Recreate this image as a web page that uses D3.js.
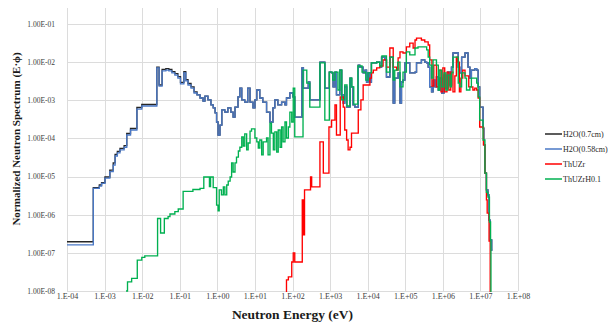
<!DOCTYPE html>
<html>
<head>
<meta charset="utf-8">
<script src="https://cdn.jsdelivr.net/npm/d3@7"></script>
<style>
	body { margin: 0; background: #fff; }
	text { font-family: "Liberation Serif", "Times New Roman", serif; }
</style>
</head>
<body>
<svg id="chart" width="609" height="325"></svg>
<script>
// values, stored as log10 (energy in eV, flux as E·phi)
// each series is a step function: value holds from its energy up to the next one
const h2oEnergy = [
	-4.00, -3.30, -3.14, -3.08, -2.99, -2.86, -2.77, -2.72, -2.66, -2.59,
	-2.48, -2.41, -2.31, -2.14, -2.01, -1.61, -1.55, -1.47, -1.37, -1.29,
	-1.21, -1.13, -1.05, -0.98, -0.89, -0.84, -0.78, -0.70, -0.62, -0.54,
	-0.46, -0.38, -0.33, -0.25, -0.17, -0.11, -0.06, -0.02, 0.02, 0.07,
	0.12, 0.20, 0.28, 0.36, 0.42, 0.47, 0.55, 0.60, 0.65, 0.73,
	0.81, 0.87, 0.95, 1.00, 1.05, 1.13, 1.21, 1.31, 1.40, 1.48,
	1.53, 1.61, 1.71, 1.80, 1.84, 1.93, 2.01, 2.06, 2.25, 2.29,
	2.42, 2.46, 2.73, 2.86, 2.98, 3.04, 3.08, 3.13, 3.17, 3.26,
	3.31, 3.35, 3.39, 3.44, 3.53, 3.57, 3.61, 3.66, 3.75, 3.79,
	3.88, 3.93, 3.97, 4.01, 4.06, 4.10, 4.24, 4.32, 4.37, 4.46,
	4.50, 4.59, 4.68, 4.72, 4.81, 4.86, 4.90, 4.94, 4.99, 5.12,
	5.26, 5.30, 5.43, 5.52, 5.57, 5.61, 5.65, 5.70, 5.74, 5.79,
	5.83, 5.88, 5.92, 5.97, 6.03, 6.08, 6.13, 6.19, 6.23, 6.27,
	6.41, 6.45, 6.50, 6.59, 6.67, 6.72, 6.76, 6.85, 6.90, 6.94,
	6.98, 7.07, 7.09, 7.12, 7.16, 7.20, 7.23, 7.26, 7.30, 7.32
]

const h2o07Flux = [
	-6.71, -5.29, -5.22, -5.16, -5.01, -4.83, -4.64, -4.42, -4.34, -4.26,
	-4.19, -3.87, -3.74, -3.19, -3.11, -2.13, -2.60, -2.19, -2.17, -2.19,
	-2.25, -2.30, -2.38, -2.53, -2.25, -2.46, -2.56, -2.65, -2.78, -2.86,
	-2.94, -3.02, -2.89, -2.99, -3.12, -3.20, -3.33, -3.57, -3.91, -3.65,
	-3.25, -3.31, -3.20, -3.31, -3.44, -3.18, -2.91, -2.68, -2.99, -3.05,
	-2.68, -3.05, -3.20, -2.99, -2.73, -2.94, -3.05, -3.31, -3.57, -3.20,
	-2.99, -3.12, -3.05, -3.12, -2.94, -2.81, -2.91, -3.44, -2.15, -2.68,
	-2.52, -2.99, -2.00, -2.68, -2.26, -2.28, -2.65, -2.26, -2.86, -2.21,
	-2.86, -3.07, -2.65, -3.18, -2.42, -2.65, -3.12, -3.18, -2.08, -2.13,
	-2.28, -2.21, -2.52, -2.28, -2.52, -2.02, -2.00, -2.13, -1.87, -1.94,
	-2.39, -1.87, -3.07, -2.42, -2.28, -3.07, -2.52, -2.47, -2.02, -2.28,
	-2.26, -2.02, -1.94, -2.00, -2.02, -2.13, -2.65, -2.78, -2.47, -2.65,
	-2.39, -2.73, -2.42, -2.81, -2.34, -2.68, -2.26, -2.60, -2.13, -1.76,
	-2.13, -2.28, -1.87, -1.76, -2.13, -2.42, -2.21, -2.17, -2.21, -2.65,
	-3.18, -3.73, -4.17, -4.91, -5.35, -5.48, -6.14, -6.66, -6.93, -6.93
]

const h2o058Flux = [
	-6.79, -5.31, -5.25, -5.18, -5.04, -4.87, -4.70, -4.46, -4.38, -4.30,
	-4.23, -3.91, -3.78, -3.23, -3.15, -2.15, -2.63, -2.23, -2.21, -2.23,
	-2.28, -2.34, -2.42, -2.57, -2.28, -2.49, -2.60, -2.68, -2.81, -2.86,
	-2.94, -3.02, -2.89, -2.99, -3.12, -3.20, -3.33, -3.57, -3.91, -3.65,
	-3.25, -3.31, -3.20, -3.31, -3.44, -3.18, -2.91, -2.68, -2.99, -3.05,
	-2.68, -3.05, -3.20, -2.99, -2.73, -2.94, -3.05, -3.31, -3.57, -3.20,
	-2.99, -3.12, -3.05, -3.12, -2.94, -2.81, -2.91, -3.44, -2.15, -2.68,
	-2.52, -2.99, -2.00, -2.68, -2.26, -2.28, -2.65, -2.26, -2.86, -2.21,
	-2.86, -3.07, -2.65, -3.18, -2.42, -2.65, -3.12, -3.18, -2.08, -2.13,
	-2.28, -2.21, -2.52, -2.28, -2.52, -2.02, -2.00, -2.13, -1.87, -1.94,
	-2.39, -1.87, -3.07, -2.42, -2.28, -3.07, -2.52, -2.47, -2.02, -2.28,
	-2.26, -2.02, -1.94, -2.00, -2.02, -2.13, -2.65, -2.78, -2.47, -2.65,
	-2.39, -2.73, -2.42, -2.81, -2.34, -2.68, -2.26, -2.60, -2.13, -1.76,
	-2.13, -2.28, -1.87, -1.76, -2.13, -2.42, -2.21, -2.17, -2.21, -2.65,
	-3.18, -3.73, -4.17, -4.91, -5.35, -5.48, -6.14, -6.66, -6.93, -6.93
]

const thuzrEnergy = [
	1.80, 1.84, 1.89, 1.98, 2.02, 2.06, 2.26, 2.29, 2.32, 2.48,
	2.51, 2.73, 2.82, 2.97, 3.04, 3.13, 3.17, 3.27, 3.35, 3.39,
	3.44, 3.48, 3.53, 3.57, 3.75, 3.82, 3.88, 4.06, 4.10, 4.15,
	4.24, 4.32, 4.41, 4.50, 4.59, 4.68, 4.77, 4.81, 4.86, 4.94,
	5.03, 5.12, 5.21, 5.26, 5.30, 5.43, 5.52, 5.61, 5.65, 5.71,
	5.76, 5.83, 5.89, 5.95, 6.00, 6.05, 6.11, 6.16, 6.21, 6.27,
	6.32, 6.36, 6.40, 6.44, 6.48, 6.53, 6.59, 6.69, 6.80, 6.85,
	6.90, 6.94, 6.98, 7.08, 7.12, 7.16, 7.18, 7.23, 7.26, 7.28
]

const thuzrFlux = [
	-8.20, -7.71, -7.63, -7.24, -7.00, -7.24, -5.61, -6.53, -5.35, -5.01,
	-5.27, -4.09, -4.91, -3.70, -3.52, -3.12, -3.91, -2.91, -3.18, -3.78,
	-4.04, -4.30, -4.23, -3.86, -3.25, -2.99, -2.60, -2.42, -2.28, -2.21,
	-2.15, -2.10, -1.94, -2.13, -1.63, -2.13, -2.21, -1.89, -1.73, -1.76,
	-1.60, -1.50, -1.63, -1.42, -1.37, -1.42, -1.47, -1.55, -1.94, -2.63,
	-2.08, -2.65, -2.21, -2.78, -2.15, -2.78, -2.26, -2.73, -2.26, -2.78,
	-2.36, -1.87, -2.00, -2.78, -2.42, -2.21, -2.36, -2.65, -2.73, -2.68,
	-2.73, -2.94, -3.70, -4.17, -4.91, -5.61, -5.96, -6.69, -9.00, -9.00
]

const thuzrhEnergy = [
	-2.43, -2.39, -2.28, -2.13, -2.01, -1.93, -1.59, -1.51, -1.41, -1.31,
	-1.26, -1.13, -1.04, -0.91, -0.65, -0.46, -0.36, -0.21, -0.18, -0.11,
	-0.02, 0.02, 0.05, 0.11, 0.16, 0.20, 0.25, 0.29, 0.34, 0.38,
	0.42, 0.47, 0.51, 0.56, 0.60, 0.65, 0.69, 0.73, 0.78, 0.82,
	0.87, 0.91, 1.00, 1.05, 1.09, 1.13, 1.18, 1.22, 1.31, 1.35,
	1.40, 1.44, 1.49, 1.53, 1.58, 1.62, 1.67, 1.71, 1.75, 1.80,
	1.84, 1.89, 1.93, 1.98, 2.02, 2.06, 2.28, 2.38, 2.46, 2.73,
	2.86, 2.98, 3.07, 3.13, 3.21, 3.26, 3.31, 3.39, 3.45, 3.53,
	3.58, 3.63, 3.74, 3.85, 3.95, 4.01, 4.10, 4.24, 4.32, 4.38,
	4.50, 4.59, 4.68, 4.72, 4.80, 4.86, 4.94, 5.03, 5.12, 5.26,
	5.34, 5.57, 5.61, 5.65, 5.70, 5.74, 5.83, 5.88, 5.92, 5.97,
	6.03, 6.08, 6.13, 6.19, 6.23, 6.27, 6.41, 6.45, 6.50, 6.59,
	6.63, 6.72, 6.76, 6.90, 6.94, 6.98, 7.07, 7.12, 7.16, 7.20,
	7.24, 7.27, 7.28, 7.30
]

const thuzrhFlux = [
	-8.00, -7.76, -7.67, -7.19, -7.12, -7.08, -6.10, -6.48, -6.10, -6.05,
	-5.98, -5.92, -5.85, -5.39, -5.34, -5.31, -5.01, -5.26, -5.01, -5.29,
	-5.75, -5.90, -5.35, -5.48, -5.27, -5.48, -5.22, -5.12, -5.01, -4.64,
	-4.88, -4.64, -4.49, -4.33, -4.23, -3.96, -4.20, -3.88, -4.30, -4.12,
	-3.81, -3.75, -3.99, -4.09, -4.25, -4.04, -4.43, -4.09, -3.99, -4.43,
	-3.60, -3.86, -4.30, -3.83, -4.36, -3.78, -4.23, -3.70, -4.09, -3.57,
	-3.99, -3.70, -3.31, -3.57, -2.68, -3.96, -2.21, -2.55, -3.18, -2.02,
	-3.52, -2.26, -2.47, -2.26, -2.73, -2.21, -2.99, -2.60, -3.15, -2.42,
	-2.65, -3.10, -2.10, -2.26, -2.47, -2.28, -2.02, -2.00, -2.10, -1.84,
	-2.26, -1.87, -2.47, -2.21, -2.00, -2.65, -2.26, -1.73, -1.81, -1.63,
	-1.60, -1.68, -1.87, -2.08, -2.42, -1.94, -2.08, -2.73, -2.21, -2.65,
	-2.28, -2.73, -2.34, -2.65, -2.28, -1.87, -2.55, -2.65, -2.28, -2.42,
	-2.73, -2.65, -2.42, -2.55, -2.91, -3.52, -4.04, -4.91, -5.41, -5.54,
	-6.19, -6.66, -9.00, -9.00
]

const seriesNames = ['H2O(0.7cm)', 'H2O(0.58cm)', 'ThUZr', 'ThUZrH0.1']
const seriesColors = ['#262626', '#4a78c6', '#ff0000', '#00b050']

const xTickLabels = ['1.E-04', '1.E-03', '1.E-02', '1.E-01', '1.E+00', '1.E+01', '1.E+02',
	'1.E+03', '1.E+04', '1.E+05', '1.E+06', '1.E+07', '1.E+08']
const yTickLabels = ['1.00E-08', '1.00E-07', '1.00E-06', '1.00E-05', '1.00E-04',
	'1.00E-03', '1.00E-02', '1.00E-01']

// Setup
const svg = d3.select('#chart')
const plot = { left: 67, right: 518, top: 24, bottom: 291 }

const x = d3.scaleLog().domain([1e-4, 1e8]).range([plot.left, plot.right])
const y = d3.scaleLog().domain([1e-8, 1e-1]).range([plot.bottom, plot.top])

const xTickValues = xTickLabels.map((_, i) => 10 ** (i - 4))
const yTickValues = yTickLabels.map((_, i) => 10 ** (i - 8))

// Grid
const grid = svg.append('g')
	.attr('stroke', '#dcdcdc')
	.attr('stroke-width', 1)

grid.selectAll('.hgrid')
	.data(yTickValues)
	.enter()
	.append('line')
	.attr('x1', plot.left)
	.attr('x2', plot.right)
	.attr('y1', (d) => Math.round(y(d)) + 0.5)
	.attr('y2', (d) => Math.round(y(d)) + 0.5)

grid.selectAll('.vgrid')
	.data(xTickValues)
	.enter()
	.append('line')
	.attr('x1', (d) => Math.round(x(d)) + 0.5)
	.attr('x2', (d) => Math.round(x(d)) + 0.5)
	.attr('y1', 8)
	.attr('y2', plot.bottom)

// Axes
const xAxis = svg.append('g')
	.attr('transform', `translate(0, ${plot.bottom})`)
	.call(d3.axisBottom(x).tickValues(xTickValues).tickSize(0).tickPadding(2)
		.tickFormat((d, i) => xTickLabels[i]))
xAxis.select('.domain').remove()
xAxis.selectAll('text')
	.style('font-family', '"Liberation Serif", serif')
	.style('font-size', '8px')
	.attr('fill', '#404040')

const yAxis = svg.append('g')
	.attr('transform', `translate(${plot.left}, 0)`)
	.call(d3.axisLeft(y).tickValues(yTickValues).tickSize(0).tickPadding(12)
		.tickFormat((d, i) => yTickLabels[i]))
yAxis.select('.domain').remove()
yAxis.selectAll('text')
	.style('font-family', '"Liberation Serif", serif')
	.style('font-size', '7.5px')
	.attr('fill', '#404040')

// Titles
svg.append('text')
	.attr('transform', 'translate(16, 139) rotate(-90)')
	.attr('text-anchor', 'middle')
	.attr('dy', '0.35em')
	.attr('font-weight', 'bold')
	.attr('font-size', 11)
	.attr('fill', '#1a1a1a')
	.text('Normalized Neutron Spectrum (E·ϕ)')

svg.append('text')
	.attr('x', (plot.left + plot.right) / 2)
	.attr('y', 319)
	.attr('text-anchor', 'middle')
	.attr('font-weight', 'bold')
	.attr('font-size', 13.5)
	.attr('fill', '#1a1a1a')
	.text('Neutron Energy (eV)')

// Lines
svg.append('clipPath')
	.attr('id', 'plotClip')
	.append('rect')
	.attr('x', plot.left)
	.attr('y', 0)
	.attr('width', plot.right - plot.left)
	.attr('height', plot.bottom + 1)

const toPoints = (energy, flux) => energy.map((e, i) => [10 ** e, 10 ** flux[i]])

const series = [
	toPoints(h2oEnergy, h2o07Flux),
	toPoints(h2oEnergy, h2o058Flux),
	toPoints(thuzrEnergy, thuzrFlux),
	toPoints(thuzrhEnergy, thuzrhFlux)
]

const line = d3.line()
	.x((d) => x(d[0]))
	.y((d) => y(d[1]))
	.curve(d3.curveStepAfter)

svg.append('g')
	.attr('clip-path', 'url(#plotClip)')
	.selectAll('path')
	.data(series)
	.enter()
	.append('path')
	.attr('d', line)
	.attr('fill', 'none')
	.attr('stroke', (d, i) => seriesColors[i])
	.attr('stroke-width', 1.35)

// Legend
const legend = svg.append('g')
	.selectAll('g')
	.data(seriesNames)
	.enter()
	.append('g')
	.attr('transform', (d, i) => `translate(545, ${134 + i * 15})`)

legend.append('line')
	.attr('x1', 0)
	.attr('x2', 17)
	.attr('stroke', (d, i) => seriesColors[i])
	.attr('stroke-width', 1.5)

legend.append('text')
	.attr('x', 18)
	.attr('dy', '0.35em')
	.attr('font-size', 8)
	.attr('fill', '#262626')
	.text((d) => d)
</script>
</body>
</html>
